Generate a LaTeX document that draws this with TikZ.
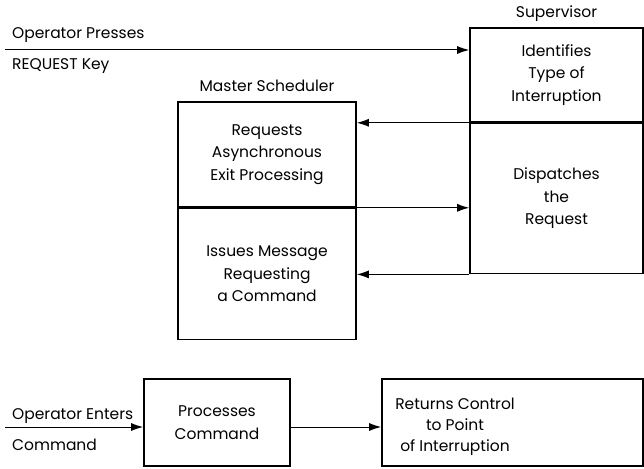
\documentclass[tikz,border=0pt]{standalone}
\usepackage{fontspec}
\setmainfont{Poppins}
\usetikzlibrary{positioning,calc,arrows.meta}

\begin{document}
\begin{tikzpicture}[x=1pt,y=-1pt,
    box/.style={draw, line width=1.6pt, rectangle, inner sep=0pt, align=center, font=\fontsize{15.5}{22.5}\selectfont},
    lbl/.style={font=\fontsize{15.5}{18}\selectfont, inner sep=0pt},
    flow/.style={line width=1pt, -{Latex[length=12pt,width=8pt]}}]
    \useasboundingbox (0,0) rectangle (644,468);

    % Supervisor
    \node[box, minimum width=173pt, minimum height=94pt] (ident) at (556.5,75) {Identifies\\Type of\\Interruption};
    \node[box, minimum width=173pt, minimum height=150pt, below=0pt of ident] (disp) {Dispatches\\the\\Request};
    \node[lbl, above=5pt of ident] (suplbl) {Supervisor};

    % Master Scheduler
    \node[box, minimum width=178pt, minimum height=105pt] (req) at (267,154.5) {Requests\\Asynchronous\\Exit Processing};
    \node[box, minimum width=178pt, minimum height=131pt, below=0pt of req] (issue) {Issues Message\\Requesting\\a Command};
    \node[lbl, above=9pt of req] (mslbl) {Master Scheduler};

    % bottom row
    \node[box, minimum width=146pt, minimum height=87pt] (proc) at (217,422.5) {Processes\\Command};
    \node[box, minimum width=261pt, minimum height=87pt] (ret) at (512.5,422.5) {};
    \node[align=center, inner sep=0pt, font=\fontsize{15.5}{21}\selectfont] (rettxt) at (455,427) {Returns Control\\to Point\\of Interruption};

    % operator input lines
    \coordinate (opin) at (5,50);
    \coordinate (cmdin) at (5,427);
    \node[lbl, anchor=base west] (press) at (12,39) {Operator Presses};
    \node[lbl, anchor=base west] (reqkey) at (12,70) {REQUEST Key};
    \node[lbl, anchor=base west] (enters) at (12,419) {Operator Enters};
    \node[lbl, anchor=base west] (cmd) at (12,450) {Command};
    \draw[flow] (opin) -- (opin -| ident.west);
    \draw[flow] (cmdin) -- (cmdin -| proc.west);

    % between the boxes
    \draw[flow] (ident.south west) -- (ident.south west -| req.east);
    \draw[flow] (req.south east) -- (req.south east -| disp.west);
    \draw[flow] (disp.south west) -- (disp.south west -| issue.east);
    \draw[flow] (proc.east |- cmdin) -- (ret.west |- cmdin);
\end{tikzpicture}
\end{document}
